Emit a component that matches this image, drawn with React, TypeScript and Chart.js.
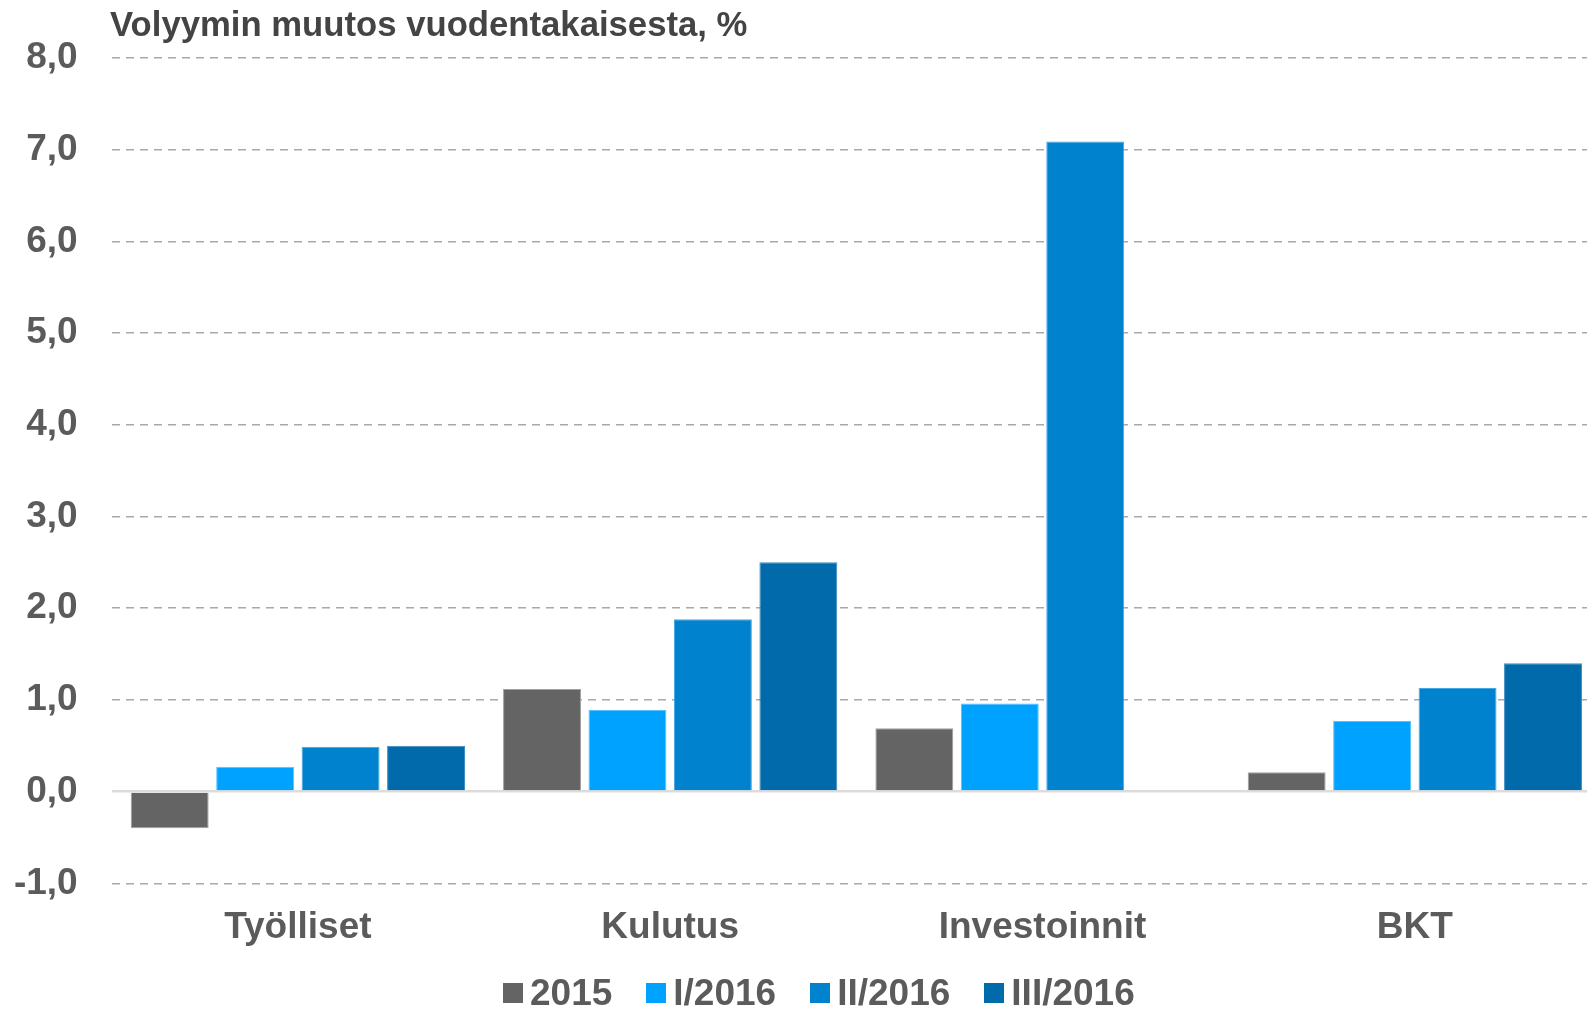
import React, { useEffect, useRef } from "react";
import { Chart, registerables } from "chart.js";

Chart.register(...registerables);

const categories = ["Työlliset", "Kulutus", "Investoinnit", "BKT"];
const seriesNames = ["2015", "I/2016", "II/2016", "III/2016"];
const values2015 = [-0.4, 1.12, 0.69, 0.21];
const valuesI2016 = [0.27, 0.89, 0.96, 0.77];
const valuesII2016 = [0.49, 1.88, 7.09, 1.13];
const valuesIII2016: (number | null)[] = [0.5, 2.5, null, 1.4];
const yMin = -1;
const yMax = 8;
const yStep = 1;
const titleText = "Volyymin muutos vuodentakaisesta, %";

const seriesColors = ["#646464", "#00A2FF", "#0082CE", "#006AAA"];
const seriesBorders = ["#a0a0a0", "#56c2ff", "#44a8e4", "#3f8cc2"];
const FONT = '"Liberation Sans", Arial, Helvetica, sans-serif';
const TEXT = "#5b5b5b";

export default function App() {
  const canvasRef = useRef<HTMLCanvasElement | null>(null);

  useEffect(() => {
    const canvas = canvasRef.current;
    if (!canvas) return;
    const allSeries = [values2015, valuesI2016, valuesII2016, valuesIII2016];
    const chart = new Chart(canvas, {
      type: "bar",
      data: {
        labels: categories,
        datasets: allSeries.map((vals, i) => ({
          label: seriesNames[i],
          data: vals,
          backgroundColor: seriesColors[i],
          borderColor: seriesBorders[i],
          borderWidth: 1,
          categoryPercentage: 0.918,
          barPercentage: 0.912,
        })),
      },
      options: {
        animation: false,
        responsive: true,
        maintainAspectRatio: false,
        layout: { padding: { top: 58, bottom: 37.3, left: 0, right: 0 } },
        plugins: {
          legend: { display: false },
          title: { display: false },
          tooltip: { enabled: false },
        },
        scales: {
          x: {
            grid: { display: false, drawTicks: false },
            border: { display: false },
            ticks: {
              color: TEXT,
              font: { family: FONT, size: 37, weight: "bold" },
              padding: 22.5,
              maxRotation: 0,
              autoSkip: false,
            },
          },
          y: {
            min: yMin,
            max: yMax,
            afterFit: (scale: any) => {
              scale.width = 111.7;
            },
            grid: {
              drawTicks: false,
              color: (ctx: any) => (ctx.tick && ctx.tick.value === 0 ? "#dcdcdc" : "#a8a8a8"),
              lineWidth: (ctx: any) => (ctx.tick && ctx.tick.value === 0 ? 2.5 : 1.5),
            },
            border: {
              display: false,
              dash: (ctx: any) => (ctx.tick && ctx.tick.value === 0 ? [] : [8, 6]),
            },
            ticks: {
              stepSize: yStep,
              color: TEXT,
              font: { family: FONT, size: 37, weight: "bold" },
              padding: 34,
              callback: (v: any) => Number(v).toFixed(1).replace(".", ","),
            },
          },
        },
      },
    });
    return () => chart.destroy();
  }, []);

  return (
    <div
      style={{
        position: "absolute",
        left: 0,
        top: 0,
        width: 1587,
        height: 1010,
        overflow: "hidden",
        background: "#ffffff",
        fontFamily: FONT,
      }}
    >
      <div style={{ position: "absolute", left: 0, top: 0, width: 1601, height: 1010 }}>
        <canvas ref={canvasRef} />
      </div>
      <div
        style={{
          position: "absolute",
          left: 110,
          top: 6.5,
          fontSize: 34.7,
          lineHeight: "35px",
          fontWeight: "bold",
          color: "#444444",
          whiteSpace: "nowrap",
        }}
      >
        {titleText}
      </div>
      <div
        style={{
          position: "absolute",
          left: 503,
          top: 973,
          height: 40,
          display: "flex",
          alignItems: "center",
          whiteSpace: "nowrap",
        }}
      >
        {seriesNames.map((name, i) => (
          <div
            key={name}
            style={{ display: "flex", alignItems: "center", marginRight: i < seriesNames.length - 1 ? 34 : 0 }}
          >
            <span
              style={{
                display: "inline-block",
                width: 20,
                height: 20,
                background: seriesColors[i],
                marginRight: 7,
              }}
            />
            <span style={{ fontSize: 37, lineHeight: "40px", fontWeight: "bold", color: TEXT }}>{name}</span>
          </div>
        ))}
      </div>
    </div>
  );
}
